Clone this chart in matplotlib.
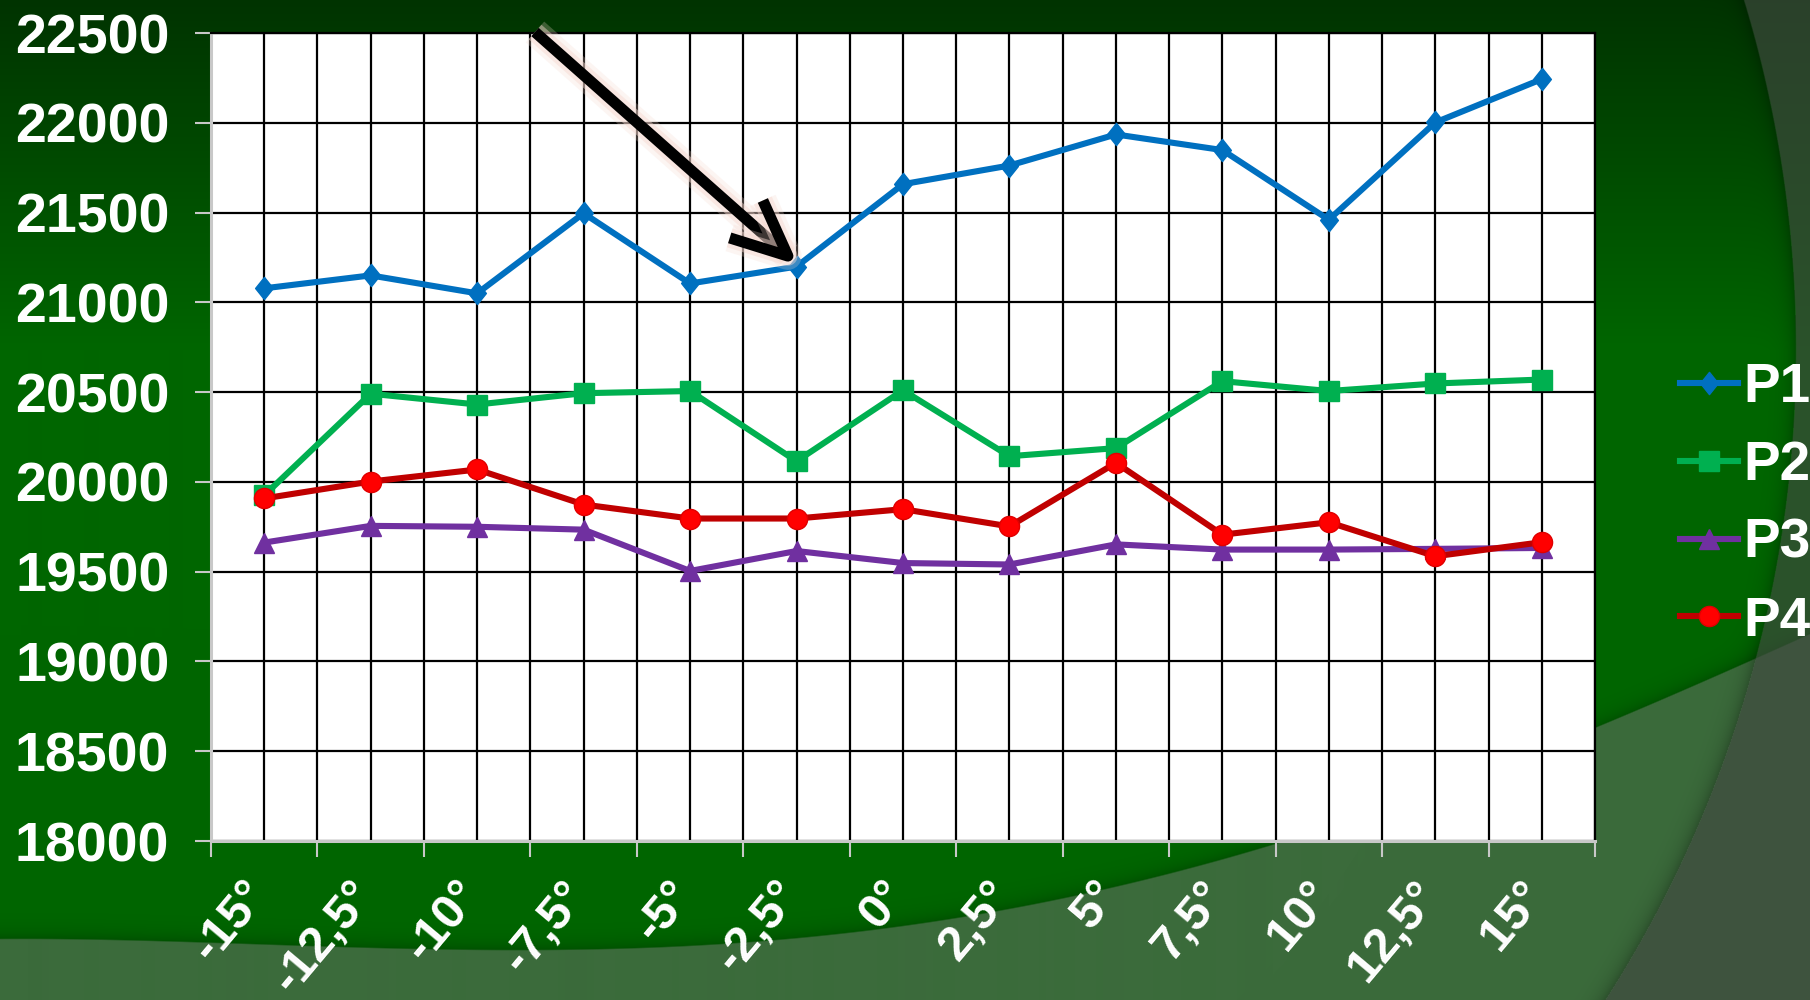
import numpy as np
import matplotlib
matplotlib.use("Agg")
import matplotlib.pyplot as plt
import matplotlib.patheffects as pe
from matplotlib.path import Path
from matplotlib.transforms import ScaledTranslation
from matplotlib import font_manager

plt.rcParams["font.family"] = ["Liberation Sans", "DejaVu Sans"]
plt.rcParams["font.weight"] = "bold"

# ---- data ----
angles = ["-15°", "-12,5°", "-10°", "-7,5°", "-5°", "-2,5°", "0°",
          "2,5°", "5°", "7,5°", "10°", "12,5°", "15°"]
p1 = [21078, 21150, 21050, 21496, 21105, 21199, 21658, 21762, 21935, 21848, 21460, 22002, 22243]
p2 = [19925, 20491, 20431, 20494, 20506, 20115, 20510, 20143, 20188, 20561, 20506, 20548, 20570]
p3 = [19662, 19755, 19750, 19734, 19504, 19615, 19548, 19540, 19652, 19623, 19623, 19627, 19632]
p4 = [19908, 20002, 20069, 19874, 19796, 19796, 19848, 19752, 20106, 19706, 19775, 19586, 19664]
names = ["P1", "P2", "P3", "P4"]
y_ticks = list(range(18000, 22501, 500))

installed = {f.name for f in font_manager.fontManager.ttflist}
narrow = "Liberation Sans Narrow" if "Liberation Sans Narrow" in installed else "Liberation Sans"

W, H = 1810, 1000
fig = plt.figure(figsize=(W / 100, H / 100), dpi=100)

# ---- slide background (decoration) ----
yy, xx = np.mgrid[0:H, 0:W] + 0.5
base = np.array([59, 107, 59]) / 255.0
# lower edge of the big dark-green shape
edge_x = [0, 462, 808, 1039, 1100, 1212, 1277, 1598, 1757, 1810]
edge_y = [939, 950, 935, 910, 887, 860, 843, 727, 658, 633]
edge = np.poly1d(np.polyfit(edge_x, edge_y, 4))(xx)
d_ell = (edge - yy) * 0.8
m_ell = np.clip(d_ell / 1.2 + 0.5, 0, 1)[..., None]
g = (51 + 51 * np.clip(yy / 350, 0, 1)) / 255.0
green = np.stack([np.zeros_like(g), g, np.zeros_like(g)], axis=-1)
green *= (1 - 0.2 * np.exp(-np.clip(d_ell, 0, None) / 7))[..., None]
img = base * (1 - m_ell) + green * m_ell
d_c = np.sqrt((xx - 591) ** 2 + (yy - 350) ** 2) - 1204
img *= (1 - 0.25 * np.exp(-np.clip(-d_c, 0, None) / 8) * (d_c < 0))[..., None]
m_c = (np.clip(d_c / 1.5 + 0.5, 0, 1) * 0.66)[..., None]
ov = np.array([64, 72, 64]) / 255.0
img = img * (1 - m_c) + ov * m_c

ax_bg = fig.add_axes([0, 0, 1, 1], zorder=-10)
ax_bg.imshow(img, extent=(0, W, H, 0), aspect="auto", interpolation="bilinear")
ax_bg.set_xlim(0, W)
ax_bg.set_ylim(H, 0)
ax_bg.axis("off")

# ---- chart ----
L, R, T, B = 211, 1595, 33, 841
ax = fig.add_axes([L / W, 1 - B / H, (R - L) / W, (B - T) / H])
ax.set_facecolor("white")

x = np.arange(len(angles))
dia = Path([(0, 1), (0.8, 0), (0, -1), (-0.8, 0), (0, 1)],
           [Path.MOVETO, Path.LINETO, Path.LINETO, Path.LINETO, Path.CLOSEPOLY])
styles = [
    dict(color="#0070C0", marker=dia, ms=16, mfc="#0070C0", mec="#0070C0"),
    dict(color="#00B050", marker="s", ms=14.5, mfc="#00B050", mec="#00B050"),
    dict(color="#7030A0", marker="^", ms=15, mfc="#7030A0", mec="#7030A0"),
    dict(color="#C00000", marker="o", ms=14.5, mfc="#FF0000", mec="#E00000"),
]
for vals, name, st in zip([p1, p2, p3, p4], names, styles):
    ax.plot(x, vals, lw=4.4, label=name, solid_joinstyle="round", **st)

ax.set_xlim(-0.5, len(angles) - 0.5)
ax.set_ylim(18000, 22500)
ax.set_yticks(y_ticks)
ax.set_xticks(np.arange(-0.5, len(angles), 1.0))
ax.set_xticklabels([])
ax.set_xticks(x, minor=True)
ax.set_xticklabels(angles, minor=True)

ax.set_axisbelow(True)
ax.grid(True, which="both", axis="x", color="black", lw=1.6)
ax.grid(True, which="major", axis="y", color="black", lw=1.6)
for s in ["left", "bottom"]:
    ax.spines[s].set_color("#C8C8C8")
    ax.spines[s].set_linewidth(2.2)
for s in ["top", "right"]:
    ax.spines[s].set_color("black")
    ax.spines[s].set_linewidth(1.6)

ax.tick_params(axis="y", direction="out", length=11.5, width=1.5, color="#C8C8C8",
               pad=18.5, labelsize=40, labelcolor="white")
ax.tick_params(axis="x", which="major", direction="out", length=11.5, width=1.5,
               color="#C8C8C8")
ax.tick_params(axis="x", which="minor", length=0, pad=33.5, labelsize=35,
               labelcolor="white")
shift = ScaledTranslation(-5 / 100, 0, fig.dpi_scale_trans)
for lab in ax.get_xticklabels(minor=True):
    lab.set_family([narrow, "Liberation Sans", "DejaVu Sans"])
    lab.set_rotation(50)
    lab.set_ha("right")
    lab.set_va("center")
    lab.set_rotation_mode("anchor")
    lab.set_transform(lab.get_transform() + shift)

leg = fig.legend(loc="center left", bbox_to_anchor=(1680 / W, 1 - 505 / H),
                 frameon=False, fontsize=39.5, handlelength=1.05, handletextpad=0.1,
                 labelspacing=0.47, borderpad=0, borderaxespad=0)
for t in leg.get_texts():
    t.set_color("white")

# ---- arrow overlay ----
ax_top = fig.add_axes([0, 0, 1, 1], zorder=10)
ax_top.set_xlim(0, W)
ax_top.set_ylim(H, 0)
ax_top.axis("off")
glow = [pe.Stroke(linewidth=20, foreground="#f6d8cf", alpha=0.25),
        pe.Stroke(linewidth=14, foreground="#f6d8cf", alpha=0.45), pe.Normal()]
ax_top.annotate("", xy=(798, 265), xytext=(535, 32),
                arrowprops=dict(arrowstyle="->,head_length=4.0,head_width=1.8",
                                lw=8, color="black", shrinkA=0, shrinkB=0,
                                capstyle="butt", path_effects=glow))

fig.savefig("out.png", dpi=100)
